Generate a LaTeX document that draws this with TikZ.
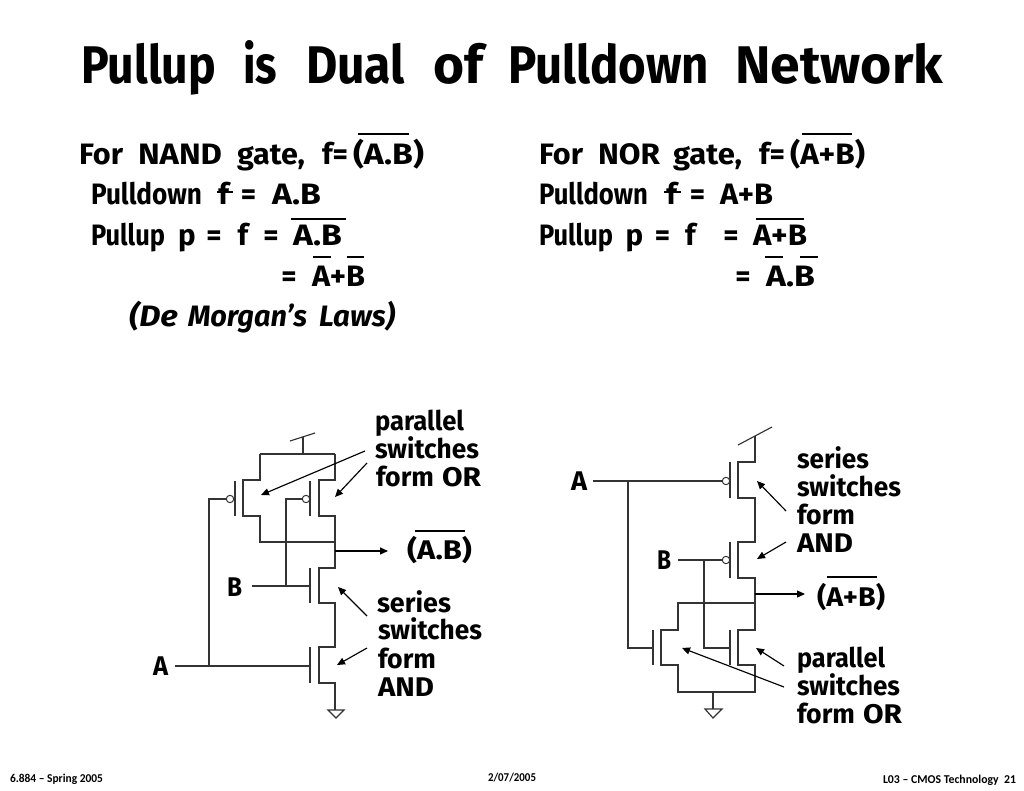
\documentclass[tikz,border=0pt]{standalone}
\usepackage{fontspec}
\usepackage{graphicx}
\setmainfont{Fira Sans}
\newfontfamily\footfont{Carlito}
\usetikzlibrary{arrows.meta}
\newcommand{\fitw}[2]{\resizebox{#1pt}{\height}{#2}}
\newcommand{\natw}[2]{\makebox[#1pt][c]{#2}}
\newcommand{\gp}[1]{\hspace{#1pt}}
\tikzset{
  every picture/.style={x=1pt,y=-1pt},
  wire/.style={line width=1.15pt,black!80,line join=miter},
  ann/.style={line width=1.15pt,black,-{Triangle[length=8pt,width=7pt]}},
  bubble/.style={circle,draw=black!80,fill=white,line width=1pt,minimum size=7.4pt,inner sep=0pt},
  bar/.style={line width=2pt,black},
  t/.style={anchor=base west,inner sep=0pt,outer sep=0pt,font=\fontsize{29.5}{30}\selectfont\bfseries},
  lab/.style={t,font=\fontsize{27}{27}\selectfont\bfseries},
  ttl/.style={t,font=\fontsize{53}{53}\selectfont\bfseries},
  ft/.style={anchor=base west,inner sep=0pt,outer sep=0pt,font=\fontsize{12}{12}\selectfont\footfont\bfseries},
}
\begin{document}
\begin{tikzpicture}
\useasboundingbox (0,0) rectangle (1024,791);
% title
\node[ttl] (title) at (81,84) {\fitw{135}{Pullup}\gp{27}\fitw{34}{is}\gp{29}\fitw{99}{Dual}\gp{28}\fitw{50}{of}\gp{25}\fitw{201}{Pulldown}\gp{26}\fitw{208}{Network}};
% left equations
\node[t] (l1) at (79,165) {\fitw{44}{For}\gp{15}\fitw{84}{NAND}\gp{15}\fitw{68}{gate,}\gp{17}\fitw{26}{f=}\gp{5}\fitw{71}{(A.B)}};
\node[t] (l2) at (91,205) {\fitw{111}{Pulldown}\gp{14}\natw{15}{f}\gp{12}\natw{11}{=}\gp{18}\fitw{49}{A.B}};
\node[t] (l3) at (91,246) {\fitw{74}{Pullup}\gp{16}\natw{12}{p}\gp{15}\natw{12}{=}\gp{16}\natw{14}{f}\gp{15}\natw{12}{=}\gp{16}\fitw{49}{A.B}};
\node[t] (l4) at (283,287) {\natw{12}{=}\gp{17}\fitw{53}{A+B}};
\node[t] (l5) at (129,326) {\itshape\fitw{49}{(De}\gp{10}\fitw{119}{Morgan’s}\gp{12}\fitw{76}{Laws)}};
\draw[bar] (358,134) -- (409,134);
\draw[bar] (217,192) -- (233,192);
\draw[bar] (291,219) -- (346,219);
\draw[bar] (313,257) -- (331,257);
\draw[bar] (347,257) -- (364,257);
% right equations
\node[t] (r1) at (539,165) {\fitw{44}{For}\gp{15}\fitw{62}{NOR}\gp{13}\fitw{69}{gate,}\gp{17}\fitw{26}{f=}\gp{5}\fitw{75}{(A+B)}};
\node[t] (r2) at (539,205) {\fitw{109}{Pulldown}\gp{16}\natw{15}{f}\gp{13}\natw{11}{=}\gp{17}\fitw{53}{A+B}};
\node[t] (r3) at (539,246) {\fitw{74}{Pullup}\gp{15}\natw{13}{p}\gp{16}\natw{11}{=}\gp{16}\natw{13}{f}\gp{28}\natw{12}{=}\gp{16}\fitw{54}{A+B}};
\node[t] (r4) at (737,287) {\natw{12}{=}\gp{17}\fitw{49}{A.B}};
\draw[bar] (802,134) -- (852,134);
\draw[bar] (664,192) -- (681,192);
\draw[bar] (756,219) -- (804,219);
\draw[bar] (765,257) -- (783,257);
\draw[bar] (800,257) -- (818,257);

% ---------- left circuit (NAND)
\draw[wire] (290,441) -- (315,433);
\draw[wire] (303,437) -- (303,454);
\draw[wire] (260,454) -- (335,454);
\draw[wire] (260,454) -- (260,480) -- (243,480) -- (243,516) -- (260,516) -- (260,542) -- (335,542);
\draw[wire] (335,454) -- (335,480) -- (319,480) -- (319,516) -- (335,516) -- (335,568) -- (319,568) -- (319,603) -- (335,603) -- (335,647) -- (319,647) -- (319,683) -- (335,683) -- (335,710);
\draw[wire] (235,481) -- (235,516);
\draw[wire] (310,481) -- (310,516);
\draw[wire] (310,568) -- (310,603);
\draw[wire] (310,647) -- (310,683);
\node[bubble] (lba) at (230,499) {};
\node[bubble] (lbb) at (306,499) {};
\coordinate (lgb) at (310,586);
\coordinate (lga) at (310,666);
\coordinate (lbj) at (286,586);
\coordinate (laj) at (209,666);
\node[lab] (lA) at (153,675) {\fitw{15}{A}};
\node[lab] (lB) at (227,596) {\fitw{15}{B}};
\coordinate (lAw) at (175,666);
\coordinate (lBw) at (252,586);
\draw[wire] (lAw) -- (lga);
\draw[wire] (lBw) -- (lgb);
\draw[wire] (laj) |- (lba.west);
\draw[wire] (lbj) |- (lbb.west);
\draw[wire] (328,710) -- (344,710) -- (336,718) -- cycle;
\coordinate (lo1) at (335,551);
\coordinate (lo2) at (388,551);
\draw[ann] (lo1) -- (lo2);
\node[lab] (lout) at (407,559) {\fitw{65}{(A.B)}};
\draw[bar] (415,531) -- (465,531);
\node[lab] (lp1) at (375,430) {\fitw{89}{parallel}};
\node[lab] (lp2) at (375,458) {\fitw{104}{switches}};
\node[lab] (lp3) at (376,486) {\fitw{58}{form}\gp{8}\fitw{39}{OR}};
\node[lab] (ls1) at (377,612) {\fitw{74}{series}};
\node[lab] (ls2) at (378,639) {\fitw{104}{switches}};
\node[lab] (ls3) at (378,668) {\fitw{58}{form}};
\node[lab] (ls4) at (378,696) {\fitw{56}{AND}};
\coordinate (a1s) at (365,451); \coordinate (a1e) at (261,495);
\coordinate (a2s) at (367,463); \coordinate (a2e) at (335,497);
\coordinate (a3s) at (367,616); \coordinate (a3e) at (338,587);
\coordinate (a4s) at (367,648); \coordinate (a4e) at (337,665);
\draw[ann] (a1s) -- (a1e);
\draw[ann] (a2s) -- (a2e);
\draw[ann] (a3s) -- (a3e);
\draw[ann] (a4s) -- (a4e);

% ---------- right circuit (NOR)
\draw[wire] (738,445) -- (772,427);
\draw[wire] (755,436) -- (755,462) -- (738,462) -- (738,498) -- (755,498) -- (755,542) -- (738,542) -- (738,578) -- (755,578) -- (755,630) -- (738,630) -- (738,665) -- (755,665) -- (755,692) -- (678,692) -- (678,665) -- (661,665) -- (661,630) -- (678,630) -- (678,603) -- (755,603);
\draw[wire] (730,462) -- (730,498);
\draw[wire] (730,542) -- (730,578);
\draw[wire] (730,630) -- (730,665);
\draw[wire] (653,630) -- (653,665);
\node[bubble] (rba) at (726,481) {};
\node[bubble] (rbb) at (726,560) {};
\node[lab] (rA) at (571,490) {\fitw{16}{A}};
\node[lab] (rB) at (657,569) {\fitw{14}{B}};
\coordinate (rAw) at (593,481);
\coordinate (rBw) at (678,560);
\draw[wire] (rAw) -- (rba.west);
\draw[wire] (rBw) -- (rbb.west);
\coordinate (raj) at (628,481);
\coordinate (rbj) at (704,560);
\coordinate (rga) at (653,648);
\coordinate (rgb) at (730,648);
\draw[wire] (raj) |- (rga);
\draw[wire] (rbj) |- (rgb);
\draw[wire] (713,692) -- (713,709);
\draw[wire] (705,709) -- (722,709) -- (713,718) -- cycle;
\coordinate (ro1) at (755,594);
\coordinate (ro2) at (805,594);
\draw[ann] (ro1) -- (ro2);
\node[lab] (rout) at (817,606) {\fitw{68}{(A+B)}};
\draw[bar] (827,577) -- (877,577);
\node[lab] (rs1) at (797,468) {\fitw{72}{series}};
\node[lab] (rs2) at (797,496) {\fitw{104}{switches}};
\node[lab] (rs3) at (797,524) {\fitw{58}{form}};
\node[lab] (rs4) at (797,552) {\fitw{56}{AND}};
\node[lab] (rp1) at (797,667) {\fitw{88}{parallel}};
\node[lab] (rp2) at (797,695) {\fitw{103}{switches}};
\node[lab] (rp3) at (797,723) {\fitw{58}{form}\gp{8}\fitw{39}{OR}};
\coordinate (b1s) at (786,511); \coordinate (b1e) at (757,481);
\coordinate (b2s) at (786,542); \coordinate (b2e) at (757,559);
\coordinate (b3s) at (784,666); \coordinate (b3e) at (756,648);
\coordinate (b4s) at (784,687); \coordinate (b4e) at (682,648);
\draw[ann] (b1s) -- (b1e);
\draw[ann] (b2s) -- (b2e);
\draw[ann] (b3s) -- (b3e);
\draw[ann] (b4s) -- (b4e);

% footer
\node[ft] (f1) at (10,782) {\fitw{93}{6.884 – Spring 2005}};
\node[ft] (f2) at (488,781) {\fitw{48}{2/07/2005}};
\node[ft] (f3) at (883,783) {\fitw{133}{L03 – CMOS Technology\ \ 21}};
\end{tikzpicture}
\end{document}
